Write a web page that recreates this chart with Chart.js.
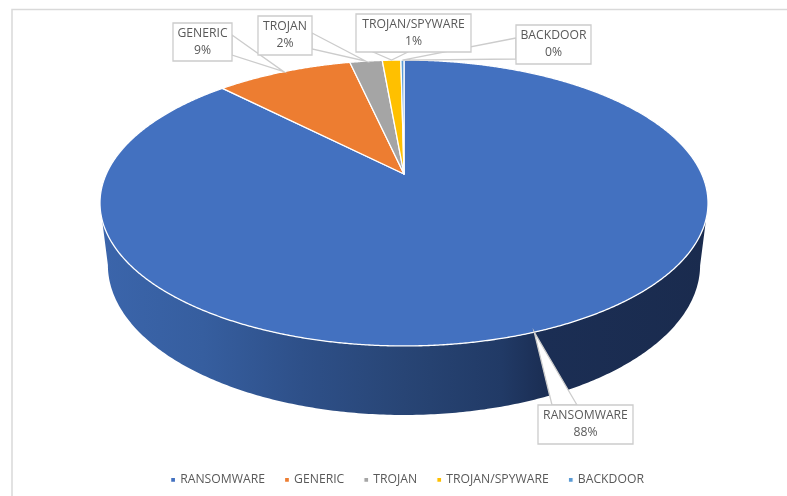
<!DOCTYPE html>
<html>
<head>
<meta charset="utf-8">
<style>
    html, body { margin: 0; padding: 0; background: #fff; overflow: hidden; }
    #holder { position: absolute; left: 0; top: 0; width: 816px; height: 496px; }
</style>
</head>
<body>
<div id="holder"><canvas id="malwareChart" width="816" height="496"></canvas></div>
<script src="https://cdn.jsdelivr.net/npm/chart.js@4/dist/chart.umd.min.js"></script>
<script>
const categories = ['RANSOMWARE', 'GENERIC', 'TROJAN', 'TROJAN/SPYWARE', 'BACKDOOR'];
const shares = [87.7, 8.8, 2.1, 1.2, 0.2];
const sliceColors = ['#4371C0', '#ED7D31', '#A5A5A5', '#FFC000', '#5B9BD5'];

// where each callout box sits, in drawing order (later ones cover earlier ones)
const calloutBoxes = [
    { index: 1, x: 173, y: 23, w: 59, h: 38, base: [[232, 35], [232, 55]], nudge: 0 },
    { index: 2, x: 258, y: 16, w: 54, h: 39, base: [[312, 33], [312, 49]], nudge: 0 },
    { index: 4, x: 516, y: 25, w: 75, h: 39, base: [[516, 38], [516, 59]], nudge: 0 },
    { index: 3, x: 356, y: 14, w: 115, h: 38, base: [[373, 52], [408, 52]], nudge: 0 },
    { index: 0, x: 538, y: 405, w: 95, h: 39, base: [[552, 405], [577, 405]], nudge: 0.024 }
];

// perspective of the tilted pie
const view = { cx: 404, apexY: 174, a: 101.8, c: 297.7, k: 0.2028, baseScale: 0.974 };
const wallStops = [
    [0, '#3B65AB'], [0.17, '#365E9F'], [0.33, '#2E5089'], [0.5, '#284575'],
    [0.66, '#213A66'], [0.73, '#1B2E54'], [1, '#1A2B4E']
];
const fontFamily = '"Open Sans", sans-serif';

function project(angle) {
    const u = Math.cos(angle);
    const v = Math.sin(angle);
    const w = 1 - view.k * v;
    return { x: view.cx + view.c * u / w, y: (view.a * v + view.apexY) / w };
}

// bottom rim of the wall, a bit narrower and lower than the top rim
function projectBase(angle) {
    const p = project(angle);
    return { x: view.cx + (p.x - view.cx) * view.baseScale, y: 265 + (p.y - 203) * 1.049 };
}

function drawWall(ctx, start, end) {
    const topFrom = Math.asin(0.308);
    const baseFrom = Math.asin(view.k);
    const a = Math.max(start, topFrom);
    const b = Math.min(end, Math.PI - topFrom);
    if (a >= b) return;

    ctx.beginPath();
    for (let t = a; t < b; t += 0.01) {
        const p = project(t);
        ctx.lineTo(p.x, p.y);
    }
    for (let t = Math.PI - baseFrom; t > baseFrom; t -= 0.01) {
        const p = projectBase(t);
        ctx.lineTo(p.x, p.y);
    }
    ctx.closePath();

    const grad = ctx.createLinearGradient(100, 0, 708, 0);
    wallStops.forEach(s => grad.addColorStop(s[0], s[1]));
    ctx.fillStyle = grad;
    ctx.fill();
}

// slices keep the angles the library works out, only the outline is tilted
Chart.ArcElement.prototype.draw = function(ctx) {
    const { startAngle, endAngle } = this.getProps(['startAngle', 'endAngle']);
    const o = this.options;

    ctx.save();
    drawWall(ctx, startAngle, endAngle);

    ctx.beginPath();
    ctx.moveTo(view.cx, view.apexY);
    for (let t = startAngle; t < endAngle; t += 0.005) {
        const p = project(t);
        ctx.lineTo(p.x, p.y);
    }
    const last = project(endAngle);
    ctx.lineTo(last.x, last.y);
    ctx.closePath();
    ctx.fillStyle = o.backgroundColor;
    ctx.fill();
    ctx.lineJoin = 'round';
    ctx.lineWidth = o.borderWidth;
    ctx.strokeStyle = o.borderColor;
    ctx.stroke();
    ctx.restore();
};

const framePlugin = {
    id: 'frame',
    beforeDraw(chart) {
        const ctx = chart.ctx;
        ctx.save();
        ctx.strokeStyle = '#D9D9D9';
        ctx.lineWidth = 1.5;
        ctx.beginPath();
        ctx.moveTo(12, 496);
        ctx.lineTo(12, 9.5);
        ctx.lineTo(816, 9.5);
        ctx.stroke();
        ctx.restore();
    }
};

const calloutPlugin = {
    id: 'callouts',
    afterDatasetsDraw(chart) {
        const ctx = chart.ctx;
        const arcs = chart.getDatasetMeta(0).data;
        const total = shares.reduce((sum, s) => sum + s, 0);

        ctx.save();
        ctx.lineWidth = 1.3;
        ctx.strokeStyle = '#CCCCCC';
        ctx.fillStyle = '#fff';
        ctx.textAlign = 'center';
        ctx.textBaseline = 'middle';
        ctx.font = '12.2px ' + fontFamily;

        calloutBoxes.forEach(box => {
            const arc = arcs[box.index];
            const tip = project((arc.startAngle + arc.endAngle) / 2 + box.nudge);

            ctx.beginPath();
            ctx.moveTo(box.base[0][0], box.base[0][1]);
            ctx.lineTo(tip.x, tip.y);
            ctx.lineTo(box.base[1][0], box.base[1][1]);
            ctx.closePath();
            ctx.fillStyle = '#fff';
            ctx.fill();
            ctx.stroke();

            ctx.beginPath();
            ctx.rect(box.x, box.y, box.w, box.h);
            ctx.fill();
            ctx.stroke();

            const pct = Math.round(shares[box.index] / total * 100) + '%';
            ctx.fillStyle = '#595959';
            ctx.fillText(categories[box.index], box.x + box.w / 2, box.y + 11);
            ctx.fillText(pct, box.x + box.w / 2, box.y + 28);
        });
        ctx.restore();
    }
};

const ctx = document.getElementById('malwareChart').getContext('2d');
const malwareChart = new Chart(ctx, {
    type: 'pie',
    data: {
        labels: categories,
        datasets: [{
            data: shares,
            backgroundColor: sliceColors,
            borderColor: '#fff',
            borderWidth: 1.3,
            clip: false
        }]
    },
    plugins: [framePlugin, calloutPlugin],
    options: {
        responsive: false,
        animation: false,
        layout: { padding: { bottom: 0 } },
        plugins: {
            tooltip: { enabled: false },
            legend: {
                position: 'bottom',
                labels: {
                    usePointStyle: true,
                    pointStyle: 'rect',
                    boxWidth: 2,
                    boxHeight: 5,
                    padding: 21,
                    color: '#595959',
                    font: { family: fontFamily, size: 12.2 }
                }
            }
        }
    }
});
</script>
</body>
</html>
